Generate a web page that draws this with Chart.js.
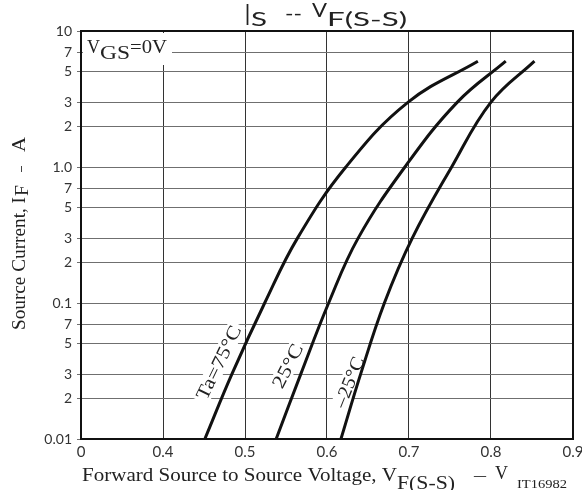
<!DOCTYPE html>
<html>
<head>
<meta charset="utf-8">
<script src="https://cdn.jsdelivr.net/npm/chart.js@4/dist/chart.umd.min.js"></script>
<style>
  body { margin: 0; background: #fff; }
  #box { width: 582px; height: 490px; }
</style>
</head>
<body>
<div id="box"><canvas id="chart" width="582" height="490"></canvas></div>
<script>
// forward current steps (A) and the read-off voltage for each curve
const currentA = [0.01, 0.03, 0.1, 0.3, 1.0, 3, 6];
const vf75 = [0.451, 0.484, 0.524, 0.564, 0.623, 0.699, 0.784];
const vf25 = [0.538, 0.568, 0.602, 0.638, 0.695, 0.759, 0.818];
const vfm25 = [0.617, 0.641, 0.670, 0.704, 0.752, 0.800, 0.853];

const xTicks = [0.3, 0.4, 0.5, 0.6, 0.7, 0.8, 0.9];
const xTickLabels = ["0", "0.4", "0.5", "0.6", "0.7", "0.8", "0.9"];
const yTicks = [0.01, 0.02, 0.03, 0.05, 0.07, 0.1, 0.2, 0.3, 0.5, 0.7, 1, 2, 3, 5, 7, 10];
const yTickLabels = ["0.01", "2", "3", "5", "7", "0.1", "2", "3", "5", "7", "1.0", "2", "3", "5", "7", "10"];

// curve labels: text, anchor (V, A), rotation, drawn width
const curveLabels = [
  { text: "Ta=75°C", v: 0.468, a: 0.0365, angle: -64, width: 80 },
  { text: "25°C", v: 0.552, a: 0.0344, angle: -63, width: 47 },
  { text: "–25°C", v: 0.627, a: 0.0262, angle: -68, width: 53 },
];

const SERIF = "'Liberation Serif', 'Times New Roman', serif";
const SANS = "Lato, 'Open Sans', sans-serif";

function fitText(ctx, text, x, y, font, width, color) {
  ctx.save();
  ctx.font = font;
  const w = ctx.measureText(text).width;
  ctx.translate(x, y);
  ctx.scale(width / w, 1);
  ctx.fillStyle = color || "#222";
  ctx.textAlign = "left";
  ctx.textBaseline = "alphabetic";
  ctx.fillText(text, 0, 0);
  ctx.restore();
}

const labelsPlugin = {
  id: "labels",
  beforeDatasetsDraw(chart) {
    const { ctx, chartArea, scales } = chart;
    ctx.save();
    // V_GS box in the top left corner
    ctx.fillStyle = "#fff";
    ctx.fillRect(chartArea.left + 2, chartArea.top + 2, 89, 32);
    fitText(ctx, "V", chartArea.left + 6, chartArea.top + 22, "18px " + SERIF, 13, "#222");
    fitText(ctx, "GS", chartArea.left + 19, chartArea.top + 28, "18px " + SERIF, 30, "#222");
    fitText(ctx, "=0V", chartArea.left + 49, chartArea.top + 22, "18px " + SERIF, 37, "#222");

    curveLabels.forEach(l => {
      const cx = scales.x.getPixelForValue(l.v);
      const cy = scales.y.getPixelForValue(l.a);
      ctx.save();
      ctx.translate(cx, cy);
      ctx.rotate(l.angle * Math.PI / 180);
      ctx.fillStyle = "#fff";
      ctx.fillRect(-l.width / 2 - 3, -9, l.width + 6, 18);
      ctx.font = "19px " + SERIF;
      const w = ctx.measureText(l.text).width;
      ctx.scale(l.width / w, 1);
      ctx.fillStyle = "#222";
      ctx.textAlign = "center";
      ctx.textBaseline = "middle";
      ctx.fillText(l.text, 0, 1);
      ctx.restore();
    });

    // full frame round the plot
    ctx.strokeStyle = "#111";
    ctx.lineWidth = 2;
    ctx.strokeRect(chartArea.left, chartArea.top, chartArea.right - chartArea.left, chartArea.bottom - chartArea.top);
    ctx.restore();
  },
  afterDraw(chart) {
    const { ctx } = chart;
    ctx.save();
    // title
    fitText(ctx, "I", 245, 25, "29px " + SANS, 5, "#222");
    fitText(ctx, "S", 251, 26, "20px " + SANS, 16, "#222");
    fitText(ctx, "--", 285, 20, "20px " + SANS, 17, "#222");
    fitText(ctx, "V", 312, 17, "19px " + SANS, 15, "#222");
    fitText(ctx, "F(S-S)", 327, 26, "20px " + SANS, 80, "#222");

    // x axis title
    fitText(ctx, "Forward Source to Source Voltage, V", 82, 481, "19px " + SERIF, 315, "#222");
    fitText(ctx, "F(S-S)", 397, 489, "19px " + SERIF, 58, "#222");
    fitText(ctx, "–", 474, 480, "16px " + SERIF, 12, "#222");
    fitText(ctx, "V", 495, 479, "18px " + SERIF, 13, "#222");
    fitText(ctx, "IT16982", 517, 488, "13px " + SERIF, 50, "#222");

    // y axis title, rotated
    ctx.translate(25, 330);
    ctx.rotate(-Math.PI / 2);
    fitText(ctx, "Source Current, I", 0, 0, "18px " + SERIF, 133, "#222");
    fitText(ctx, "F", 134, 3, "18px " + SERIF, 11, "#222");
    fitText(ctx, "–", 158, 0, "16px " + SERIF, 6, "#222");
    fitText(ctx, "A", 178, 0, "18px " + SERIF, 15, "#222");
    ctx.restore();
  },
};

function series(volts) {
  return currentA.map((a, i) => ({ x: volts[i], y: a }));
}

const lineStyle = {
  borderColor: "#111",
  borderWidth: 3,
  pointRadius: 0,
  fill: false,
  tension: 0.4,
};

new Chart(document.getElementById("chart"), {
  type: "line",
  data: {
    datasets: [
      { label: "75", data: series(vf75), ...lineStyle },
      { label: "25", data: series(vf25), ...lineStyle },
      { label: "-25", data: series(vfm25), ...lineStyle },
    ],
  },
  options: {
    responsive: false,
    animation: false,
    layout: { padding: { top: 31, right: 9, bottom: 0, left: 0 } },
    plugins: {
      legend: { display: false },
      tooltip: { enabled: false },
      title: { display: false },
    },
    scales: {
      x: {
        type: "linear",
        min: 0.3,
        max: 0.9,
        afterBuildTicks: s => { s.ticks = xTicks.map(v => ({ value: v })); },
        afterFit: s => { s.height = 51; s.paddingLeft = 0; s.paddingRight = 0; },
        ticks: {
          autoSkip: false,
          maxRotation: 0,
          padding: 4,
          color: "#333",
          font: { family: SANS, size: 15 },
          callback: v => xTickLabels[xTicks.findIndex(t => Math.abs(t - v) < 1e-9)],
        },
        grid: { color: "#333", lineWidth: 1, drawTicks: false },
        border: { color: "#111", width: 2 },
      },
      y: {
        type: "logarithmic",
        min: 0.01,
        max: 10,
        afterBuildTicks: s => { s.ticks = yTicks.map(v => ({ value: v })); },
        afterFit: s => { s.width = 81; s.paddingTop = 0; s.paddingBottom = 0; },
        ticks: {
          autoSkip: false,
          padding: 5,
          color: "#333",
          font: { family: SANS, size: 14 },
          callback: v => yTickLabels[yTicks.findIndex(t => Math.abs(t - v) < 1e-9)],
        },
        grid: { color: "#6f6f6f", lineWidth: 1, tickLength: 4 },
        border: { color: "#111", width: 2 },
      },
    },
  },
  plugins: [labelsPlugin],
});
</script>
</body>
</html>
